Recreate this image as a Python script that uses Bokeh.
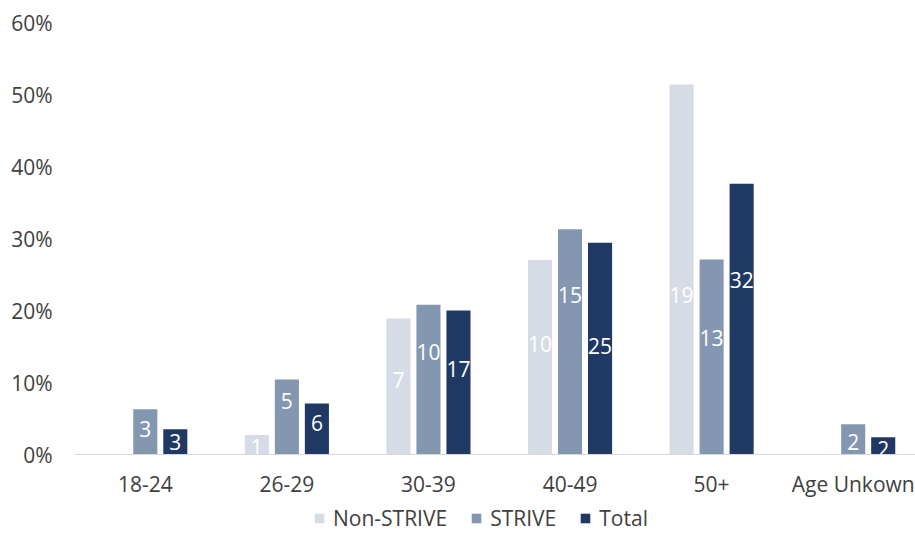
from bokeh.plotting import figure
from bokeh.models import (Range1d, FixedTicker, PrintfTickFormatter, Legend, LegendItem,
                          ColumnDataSource)
from bokeh.layouts import column
from bokeh.core.properties import value
from bokeh.embed import file_html
from bokeh.resources import INLINE

# ---- data ----
categories = ["18-24", "26-29", "30-39", "40-49", "50+", "Age Unkown"]
series_names = ["Non-STRIVE", "STRIVE", "Total"]
non_strive_pct = [0.0, 2.7, 18.9, 27.0, 51.4, 0.0]
strive_pct = [6.3, 10.4, 20.8, 31.3, 27.1, 4.2]
total_pct = [3.5, 7.1, 20.0, 29.4, 37.6, 2.4]
# data labels (counts) and the height at which each label sits (in % units)
non_strive_counts = ["", "1", "7", "10", "19", ""]
strive_counts = ["3", "5", "10", "15", "13", "2"]
total_counts = ["3", "6", "17", "25", "32", "2"]
non_strive_label_y = [0.0, 1.0, 10.3, 15.3, 22.2, 0.0]
strive_label_y = [3.5, 7.5, 14.3, 22.2, 16.25, 1.7]
total_label_y = [1.7, 4.4, 11.9, 15.1, 24.2, 0.8]
y_ticks = [0, 10, 20, 30, 40, 50, 60]

colors = ["#D6DCE5", "#8497B0", "#203864"]
FONT = "Open Sans"
TXT = "#404040"
FS = "21px"

values = [non_strive_pct, strive_pct, total_pct]
counts = [non_strive_counts, strive_counts, total_counts]
label_ys = [non_strive_label_y, strive_label_y, total_label_y]
offsets = [-0.212, 0.0, 0.212]
bar_w = 0.17

p = figure(width=915, height=500, x_range=Range1d(0, 5.94), y_range=Range1d(0, 60),
           output_backend="svg", toolbar_location=None,
           min_border_left=74, min_border_right=0, min_border_top=22, min_border_bottom=46)
p.outline_line_color = None
p.grid.visible = False
p.background_fill_color = "white"
p.border_fill_color = "white"

centers = [i + 0.5 for i in range(len(categories))]
for s in range(3):
    xs = [c + offsets[s] for c in centers]
    src = ColumnDataSource(dict(x=xs, top=values[s]))
    p.vbar(x="x", top="top", bottom=0, width=bar_w, source=src,
           fill_color=colors[s], line_color=None)
for s in range(3):
    xs = [c + offsets[s] for c in centers]
    lsrc = ColumnDataSource(dict(x=xs, y=label_ys[s], t=counts[s]))
    p.text(x="x", y="y", text="t", source=lsrc, text_align="center",
           text_baseline="middle", text_color="white",
           text_font=value(FONT), text_font_size=FS)

# axes
xa = p.xaxis[0]
xa.ticker = FixedTicker(ticks=centers)
xa.major_label_overrides = {c: lab for c, lab in zip(centers, categories)}
xa.axis_line_color = "#D9D9D9"
xa.axis_line_width = 1
xa.major_tick_line_color = None
xa.minor_tick_line_color = None
xa.major_tick_out = 0
xa.major_tick_in = 0
xa.major_label_standoff = 15
xa.major_label_text_font = FONT
xa.major_label_text_font_size = FS
xa.major_label_text_color = TXT

ya = p.yaxis[0]
ya.ticker = FixedTicker(ticks=y_ticks)
ya.formatter = PrintfTickFormatter(format="%d%%")
ya.axis_line_color = None
ya.major_tick_line_color = None
ya.minor_tick_line_color = None
ya.major_tick_out = 0
ya.major_tick_in = 0
ya.major_label_standoff = 22
ya.major_label_text_font = FONT
ya.major_label_text_font_size = FS
ya.major_label_text_color = TXT

# legend strip underneath (its frame is aligned with the main frame by the column)
lg = figure(width=915, height=33, x_range=Range1d(0, 1), y_range=Range1d(0, 1),
            output_backend="svg", toolbar_location=None,
            x_axis_type=None, y_axis_type=None,
            min_border_left=0, min_border_right=0, min_border_top=0, min_border_bottom=0)
lg.outline_line_color = None
lg.grid.visible = False
lg.border_fill_color = "white"
items = []
for s in range(3):
    # zero-height proxy bar: only provides the legend swatch
    r = lg.vbar(x=[0.5], top=[0], bottom=0, width=0.1, fill_color=colors[s], line_color=None)
    items.append(LegendItem(label=series_names[s], renderers=[r]))
legend = Legend(items=items, orientation="horizontal", location=(239, 1),
                label_text_font=FONT, label_text_font_size=FS, label_text_color=TXT,
                glyph_width=12, glyph_height=12, label_standoff=8, spacing=23,
                padding=0, margin=0, border_line_color=None, background_fill_alpha=0)
lg.add_layout(legend)

layout = column(p, lg, spacing=0)
open("out.html", "w").write(file_html(layout, INLINE))
